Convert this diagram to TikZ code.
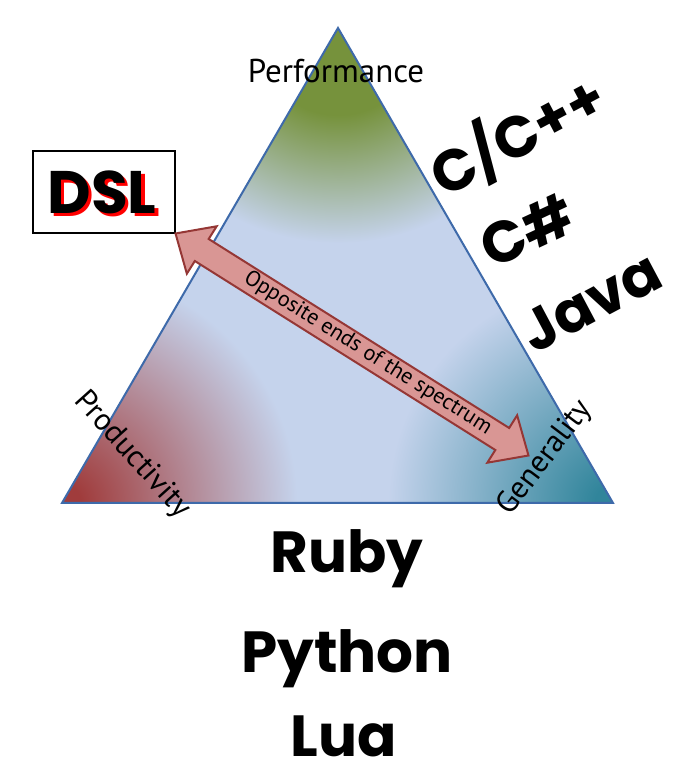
\documentclass[tikz,border=0pt]{standalone}
\usepackage{fontspec}
\usetikzlibrary{calc}
\newfontfamily\labelfont{PT Sans}
\newfontfamily\bigfont{Poppins}
\definecolor{pblue}{RGB}{197,211,236}
\definecolor{pgreen}{RGB}{118,146,60}
\definecolor{pred}{RGB}{160,60,60}
\definecolor{pteal}{RGB}{49,133,155}
\definecolor{tborder}{RGB}{62,106,170}
\definecolor{arrfill}{RGB}{217,150,148}
\definecolor{arrline}{RGB}{149,55,53}
\definecolor{shadowred}{RGB}{255,0,0}
\pgfdeclareradialshading{greenglow}{\pgfpointorigin}{color(0bp)=(pgreen); color(9bp)=(pgreen); color(25bp)=(pblue); color(50bp)=(pblue)}
\pgfdeclareradialshading{redglow}{\pgfpointorigin}{color(0bp)=(pred); color(2bp)=(pred); color(25bp)=(pblue); color(50bp)=(pblue)}
\pgfdeclareradialshading{tealglow}{\pgfpointorigin}{color(0bp)=(pteal); color(2bp)=(pteal); color(25bp)=(pblue); color(50bp)=(pblue)}
\begin{document}
\begin{tikzpicture}[x=1pt,y=1pt,
  lbl/.style={font=\labelfont\fontsize{31}{36}\selectfont, inner sep=0pt},
  speclbl/.style={font=\labelfont\fontsize{22}{26}\selectfont, inner sep=0pt},
  lang/.style={font=\bigfont\bfseries\fontsize{58}{64}\selectfont, inner sep=0pt},
  dsltext/.style={font=\bigfont\bfseries\fontsize{60}{66}\selectfont, inner sep=0pt},
  tri/.style={draw=tborder, line width=2pt, line join=miter},
  blockarrow/.style={draw=arrline, fill=arrfill, line width=2pt, line join=miter}]
\useasboundingbox (0,0) rectangle (693,768);
\fill[white] (0,0) rectangle (693,768);
\coordinate (apex) at (338,740);
\coordinate (bl) at (62,265);
\coordinate (br) at (613,265);
\begin{scope}
  \clip (apex) -- (bl) -- (br) -- cycle;
  \fill[pblue] (apex) -- (bl) -- (br) -- cycle;
  \shade[shading=greenglow] (338,725) ellipse (215 and 200);
  \shade[shading=redglow] (bl) circle (235);
  \shade[shading=tealglow] (br) circle (225);
\end{scope}
\draw[tri] (apex) -- (bl) -- (br) -- cycle;
% labels at corners
\node[lbl, font=\labelfont\fontsize{33}{38}\selectfont] (perf) at (336,697) {Performance};
\node[lbl, rotate=-48] (prod) at (132,313) {Productivity};
\node[lbl, rotate=53] (gen) at (545,310) {Generality};
% DSL box
\node[draw=black, line width=2pt, minimum width=142pt, minimum height=82pt, inner sep=0pt] (dslbox) at (104,576) {};
\node[dsltext, text=shadowred] (dslshadow) at ($(dslbox)+(1.5,-3.5)$) {DSL};
\node[dsltext] (dsl) at ($(dslbox)+(-2,0)$) {DSL};
% double block arrow
\coordinate (arrL) at (dslbox.south east);
\coordinate (arrR) at (528,313);
\begin{scope}[shift={($(arrL)!0.5!(arrR)$)}, rotate=-32.17]
  \draw[blockarrow] (-208.5,0) -- (-177.5,28) -- (-177.5,13) -- (177.5,13) -- (177.5,28)
     -- (208.5,0) -- (177.5,-28) -- (177.5,-13) -- (-177.5,-13) -- (-177.5,-28) -- cycle;
  \node[speclbl, rotate=-32.17] (spec) at (18,1) {Opposite ends of the spectrum};
\end{scope}
% languages
\node[lang, rotate=28] (cpp) at (517,633) {C/C++};
\node[lang, rotate=25] (cs) at (527,538) {C\#};
\node[lang, rotate=28] (java) at (591,466) {Java};
\node[lang, anchor=base] (ruby) at (347,195) {Ruby};
\node[lang, anchor=base] (python) at (347,95) {Python};
\node[lang, anchor=base, text depth=0pt] (lua) at (344,11) {Lua};
\end{tikzpicture}
\end{document}
